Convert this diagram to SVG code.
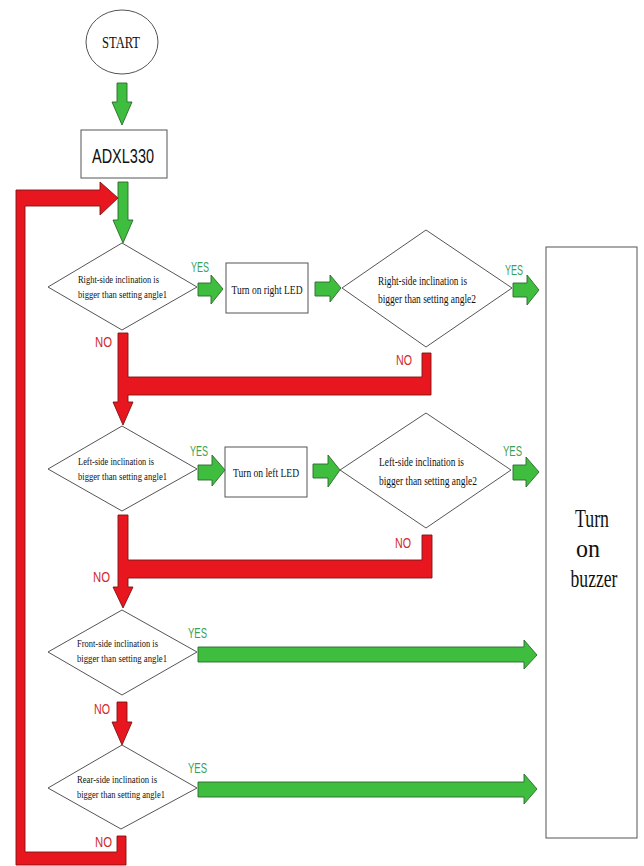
<svg xmlns="http://www.w3.org/2000/svg" width="644" height="866" viewBox="0 0 644 866">
<style>
.shape{fill:#fff;stroke:#555;stroke-width:1}
.dt{font-family:"Liberation Serif","Times New Roman",serif;font-size:11px;fill:#111}
.dt2{font-family:"Liberation Serif","Times New Roman",serif;font-size:12.5px;fill:#111}
.bt{font-family:"Liberation Serif","Times New Roman",serif;font-size:13px;fill:#111;text-anchor:middle}
.g{fill:#3ebd3e;stroke:#2b6a2b;stroke-width:0.9}
.r{fill:#e8161e;stroke:#7a1414;stroke-width:0.9}
.yes{font-family:"Liberation Sans",Arial,sans-serif;font-size:15px;fill:#3aa055}
.no{font-family:"Liberation Sans",Arial,sans-serif;font-size:15px;fill:#d02a2a}
</style>
<rect width="644" height="866" fill="#fff"/>
<g id="connectors">
<path class="g" d="M117,83 H127 V102 H132 L122,125 L112,102 H117 Z"/>
<path class="g" d="M118,182 H128 V220 H133 L123,243 L113,220 H118 Z"/>
<path class="g" d="M198,283 H211 V275 L223,289 L211,304 V296 H198 Z"/>
<path class="g" d="M315,282 H330 V275 L341,288 L330,302 V296 H315 Z"/>
<path class="g" d="M513,283 H527 V275 L539,290 L527,305 V297 H513 Z"/>
<path class="g" d="M198,465 H212 V455 L225,470 L212,486 V480 H198 Z"/>
<path class="g" d="M313,464 H328 V455 L340,470 L328,487 V478 H313 Z"/>
<path class="g" d="M513,465 H526 V457 L539,472 L526,487 V480 H513 Z"/>
<path class="g" d="M198,647 H524 V640 L537,655 L524,669 V662 H198 Z"/>
<path class="g" d="M198,782 H524 V774 L537,789 L524,804 V797 H198 Z"/>
<path class="r" d="M118,333 H128 V377 H422 V353 H431 V395 H128 V402 H133 L123,425 L113,402 H118 Z"/>
<path class="r" d="M118,515 H128 V560 H422 V535 H432 V578 H128 V587 H133 L123,608 L113,587 H118 Z"/>
<path class="r" d="M117,702 H127 V722 H132 L122,745 L112,722 H117 Z"/>
<path class="r" d="M117,836 H126 V865 H16 V190 H100 V182 L118,198 L100,215 V206 H25 V852 H117 Z"/>
<text class="yes" x="191" y="272" textLength="18" lengthAdjust="spacingAndGlyphs">YES</text>
<text class="yes" x="505" y="275" textLength="18" lengthAdjust="spacingAndGlyphs">YES</text>
<text class="yes" x="190" y="456" textLength="18" lengthAdjust="spacingAndGlyphs">YES</text>
<text class="yes" x="503" y="456" textLength="19" lengthAdjust="spacingAndGlyphs">YES</text>
<text class="yes" x="188" y="638" textLength="19" lengthAdjust="spacingAndGlyphs">YES</text>
<text class="yes" x="188" y="773" textLength="19" lengthAdjust="spacingAndGlyphs">YES</text>
<text class="no" x="95" y="347" textLength="17" lengthAdjust="spacingAndGlyphs">NO</text>
<text class="no" x="396" y="365" textLength="16" lengthAdjust="spacingAndGlyphs">NO</text>
<text class="no" x="93" y="582" textLength="17" lengthAdjust="spacingAndGlyphs">NO</text>
<text class="no" x="395" y="548" textLength="16" lengthAdjust="spacingAndGlyphs">NO</text>
<text class="no" x="94" y="714" textLength="16" lengthAdjust="spacingAndGlyphs">NO</text>
<text class="no" x="95" y="847" textLength="17" lengthAdjust="spacingAndGlyphs">NO</text>
</g>
<g id="start">
<ellipse class="shape" cx="122" cy="42" rx="36" ry="32"/>
<text x="121" y="48" font-family="Liberation Serif, serif" font-size="16" text-anchor="middle" textLength="38" lengthAdjust="spacingAndGlyphs" fill="#111">START</text>
</g>
<g id="adxl330">
<rect class="shape" x="81" y="130" width="86" height="48"/>
<text x="123" y="163" font-family="Liberation Sans, Arial, sans-serif" font-size="21" text-anchor="middle" textLength="62" lengthAdjust="spacingAndGlyphs" fill="#111">ADXL330</text>
</g>
<g id="d1">
<polygon class="shape" points="122,243 197,287 122,330 48,287"/>
<text class="dt" x="78" y="283" textLength="81" lengthAdjust="spacingAndGlyphs">Right-side inclination is</text>
<text class="dt" x="78" y="298" textLength="89" lengthAdjust="spacingAndGlyphs">bigger than setting angle1</text>
</g>
<g id="right-led">
<rect class="shape" x="226" y="263" width="82" height="50"/>
<text class="bt" x="267" y="294" textLength="71" lengthAdjust="spacingAndGlyphs">Turn on right LED</text>
</g>
<g id="d2">
<polygon class="shape" points="426,230 512,288 426,347 342,288"/>
<text class="dt2" x="378" y="285" textLength="89" lengthAdjust="spacingAndGlyphs">Right-side inclination is</text>
<text class="dt2" x="378" y="303" textLength="98" lengthAdjust="spacingAndGlyphs">bigger than setting angle2</text>
</g>
<g id="d3">
<polygon class="shape" points="122,426 197,469 122,511 48,469"/>
<text class="dt" x="78" y="465" textLength="76" lengthAdjust="spacingAndGlyphs">Left-side inclination is</text>
<text class="dt" x="78" y="480" textLength="89" lengthAdjust="spacingAndGlyphs">bigger than setting angle1</text>
</g>
<g id="left-led">
<rect class="shape" x="225" y="447" width="82" height="50"/>
<text class="bt" x="266" y="477" textLength="66" lengthAdjust="spacingAndGlyphs">Turn on left LED</text>
</g>
<g id="d4">
<polygon class="shape" points="426,413 511,470 426,528 340,470"/>
<text class="dt2" x="379" y="466" textLength="85" lengthAdjust="spacingAndGlyphs">Left-side inclination is</text>
<text class="dt2" x="379" y="485" textLength="98" lengthAdjust="spacingAndGlyphs">bigger than setting angle2</text>
</g>
<g id="d5">
<polygon class="shape" points="122,610 197,652 122,695 48,652"/>
<text class="dt" x="77" y="647" textLength="81" lengthAdjust="spacingAndGlyphs">Front-side inclination is</text>
<text class="dt" x="77" y="662" textLength="90" lengthAdjust="spacingAndGlyphs">bigger than setting angle1</text>
</g>
<g id="d6">
<polygon class="shape" points="122,745 197,788 121,829 48,788"/>
<text class="dt" x="77" y="783" textLength="80" lengthAdjust="spacingAndGlyphs">Rear-side inclination is</text>
<text class="dt" x="77" y="798" textLength="88" lengthAdjust="spacingAndGlyphs">bigger than setting angle1</text>
</g>
<g id="buzzer">
<rect class="shape" x="546" y="247" width="91" height="591"/>
<g font-family="Liberation Serif, serif" font-size="25" text-anchor="middle" fill="#111">
<text x="592" y="527" textLength="34" lengthAdjust="spacingAndGlyphs">Turn</text>
<text x="588" y="557" textLength="24" lengthAdjust="spacingAndGlyphs">on</text>
<text x="594" y="587" textLength="47" lengthAdjust="spacingAndGlyphs">buzzer</text>
</g>
</g>
</svg>
